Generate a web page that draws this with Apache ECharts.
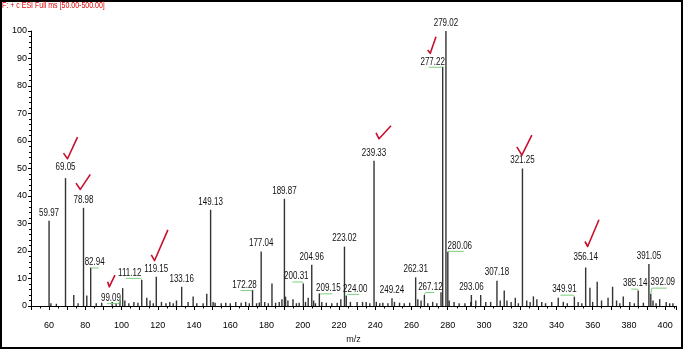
<!DOCTYPE html>
<html><head><meta charset="utf-8">
<script src="https://cdn.jsdelivr.net/npm/echarts@6/dist/echarts.min.js"></script>
<style>html,body{margin:0;padding:0;background:#fff}#c{width:685px;height:352px}</style>
</head><body><div id="c"></div>
<script>
// ---- data ----
const titleText = 'F: + c ESI Full ms [50.00-500.00]';
const xName = 'm/z';
const yName = 'Relative Abundance';
const labeledMz = [59.97, 69.05, 78.98, 82.94, 99.09, 111.12, 119.15, 133.16, 149.13, 172.28, 177.04, 189.87, 200.31, 204.96, 209.15, 223.02, 224.00, 239.33, 249.24, 262.31, 267.12, 277.22, 279.02, 280.06, 293.06, 307.18, 321.25, 349.91, 356.14, 385.14, 391.05, 392.09];
const labeledAb = [31, 46.5, 35.7, 14, 2.5, 9.5, 10.6, 7, 35, 5.8, 19.8, 39, 8.2, 15, 4.6, 21.6, 3.7, 52.8, 2.8, 10.4, 4, 87, 100, 19.7, 4, 9.2, 50, 3.4, 14, 5.6, 15.3, 4.5];
const labelTexts = ['59.97','69.05','78.98','82.94','99.09','111.12','119.15','133.16','149.13','172.28','177.04','189.87','200.31','204.96','209.15','223.02','224.00','239.33','249.24','262.31','267.12','277.22','279.02','280.06','293.06','307.18','321.25','349.91','356.14','385.14','391.05','392.09'];
const minorMz = [61,64,73.6,76,80.8,86,89,94.8,97,100.6,101.8,104,106.8,109,113.9,115.7,117.5,122,124.5,126.6,128.5,130.3,136.7,139.5,141.5,145,147,150.5,151.6,155,157.5,160,163,166,168.5,170.5,174.5,176,179,181,183,185,187,188.5,190.5,191.8,194.6,196.5,198,201.5,203,206,207,210.5,213,216,219,221,226.3,230,233,235,237,240.6,242.5,244.2,247,250.6,253.4,256,259,263.5,265.3,269,271.7,274,276.3,280.8,283.5,286.3,289.5,292.7,295.5,298.2,301,303.7,309,311.2,312.7,315,317.3,319,323.6,325.5,327.3,329.2,331.9,334,337.4,341,343.8,346,352,354,358.5,360,362.5,364.9,368.5,371,373.2,375,376.9,380.5,383,388,393.3,395,397,400.6,402.5,404.3];
const minorAb = [1,0.8,4,1,3.8,1,1.2,1.5,1,6.5,2,1,1.5,1.2,3,2,1,1.5,1,1.5,1,2,1.5,3.5,1,1,4.5,1.5,1.2,1,1.2,1,1.5,1.2,1.5,1,1,1.3,1.5,1,8.2,1.2,1.5,2.5,3.4,2,2.5,1,1.2,1.5,3,2,1,1.5,1.2,1,1.2,2.5,1.5,1.5,1.5,1.5,1,1.5,1,1.2,1,1.5,1.2,1,1.2,2.5,2,1,1.5,1,5,2,1.5,1,1,1.5,2,4,1.5,1.5,2,5.6,2,1.5,3,1,2,1.5,3.5,2.5,1.5,1,1.5,3,1.5,1,1.5,1,6.6,1.5,8.8,2,3,7,2,1,3.5,1.5,1,1.2,2,1,2.5,1.5,1,1];
const checkedPeaks = ['69.05','78.98','99.09','119.15','239.33','277.22','321.25','356.14'];

// ---- layout / style (not data) ----
const FF = "'Liberation Sans',Arial,sans-serif";
const labelOffset = { // [dx, dy, greenConnector]
  '82.94':[4,-5,1], '99.09':[-9,-1,1], '111.12':[-12,-7,1], '172.28':[-8,-5,1], '200.31':[-7,-7,1],
  '209.15':[9,-5,1], '224.00':[9,-7,1], '267.12':[6,-8,1], '277.22':[-10,-5,1], '280.06':[12,-6,1],
  '349.91':[-10,-7,1], '385.14':[-3,-7,1], '392.09':[12,-11,1], '69.05':[0,-11,0], '356.14':[0,-10,0]
};
const checkShape = {
  '69.05':[[-2,-25],[2,-19.4],[12,-41]],
  '78.98':[[-7.5,-24.7],[-3.2,-18.4],[6.8,-33.4]],
  '99.09':[[-12.3,-17.3],[-10.7,-12.3],[-5,-24]],
  '119.15':[[-5,-22],[-1.7,-16.3],[11.6,-47]],
  '239.33':[[2,-28],[5,-22],[17,-35]],
  '277.22':[[-15,-16.7],[-12.4,-13.4],[-6.7,-30]],
  '321.25':[[-5.6,-21.6],[-0.6,-13.3],[9.4,-33.3]],
  '356.14':[[-0.7,-26],[2,-21],[13.3,-47.7]]
};

const allPeaks = labeledMz.map((m,i)=>[m,labeledAb[i]]).concat(minorMz.map((m,i)=>[m,minorAb[i]]));
const labelData = labeledMz.map((m,i)=>[m,labeledAb[i]]);
const checkData = checkedPeaks.map(t=>{const i=labelTexts.indexOf(t);return [labeledMz[i],labeledAb[i]];});

const chart = echarts.init(document.getElementById('c'));
chart.setOption({
  animation:false,
  backgroundColor:'#fff',
  grid:{left:31,right:9,top:31,bottom:46,containLabel:false,outerBoundsMode:'none'},
  xAxis:{type:'value',min:50,max:406,interval:10,name:xName,nameLocation:'middle',nameGap:27,
    nameTextStyle:{fontSize:9,color:'#111',fontFamily:FF},
    axisLine:{lineStyle:{color:'#000',width:1}},
    axisTick:{length:4,lineStyle:{color:'#000'}},
    minorTick:{show:true,splitNumber:2,length:2.5,lineStyle:{color:'#000'}},
    axisLabel:{margin:15,fontSize:9,color:'#000',fontFamily:FF,formatter:v=>(v%20===0?String(v):'')},
    splitLine:{show:false}},
  yAxis:{type:'value',min:0,max:100,interval:10,name:yName,nameLocation:'middle',nameGap:20,
    nameTextStyle:{fontSize:10,color:'#111',fontFamily:FF},
    axisLine:{show:true,lineStyle:{color:'#000',width:1}},
    axisTick:{show:true,length:3,lineStyle:{color:'#000'}},
    minorTick:{show:true,splitNumber:5,length:2,lineStyle:{color:'#000'}},
    axisLabel:{margin:4,fontSize:9,color:'#000',fontFamily:FF},
    splitLine:{show:false}},
  graphic:[
    {type:'rect',shape:{x:1,y:1,width:681,height:347},style:{fill:'none',stroke:'#000',lineWidth:2},silent:true},
    {type:'text',x:2,y:1,scaleX:0.78,style:{text:titleText,x:0,y:0,fill:'#dd0000',fontSize:9,fontFamily:FF}}
  ],
  series:[
    {type:'custom',data:allPeaks,clip:false,
     renderItem:(p,api)=>{const a=api.coord([api.value(0),0]);const b=api.coord([api.value(0),api.value(1)]);
       return {type:'line',shape:{x1:a[0],y1:a[1],x2:b[0],y2:b[1]},style:{stroke:'#333',lineWidth:1.4}};}},
    {type:'custom',data:labelData,clip:false,
     renderItem:(p,api)=>{const t=labelTexts[p.dataIndex];const top=api.coord([api.value(0),api.value(1)]);
       const o=labelOffset[t]||[0,-8,0];const cx=top[0]+o[0],cy=top[1]+o[1];
       const ch=[{type:'text',x:cx,y:cy,scaleX:0.8,style:{text:t,x:0,y:0,align:'center',verticalAlign:'middle',fontSize:10,fontFamily:FF,fill:'#111'}}];
       if(o[2]){const yb=cy+5.5;const x0=o[0]<0?cx-4:cx+4;
         ch.push({type:'polyline',shape:{points:[[x0,yb],[top[0]+(o[0]<0?-1:1),yb],[top[0],top[1]]]},style:{stroke:'#7ccf7c',lineWidth:1,fill:'none'}});}
       return {type:'group',children:ch};}},
    {type:'custom',data:checkData,clip:false,
     renderItem:(p,api)=>{const t=checkedPeaks[p.dataIndex];const top=api.coord([api.value(0),api.value(1)]);
       const pts=checkShape[t].map(q=>[top[0]+q[0],top[1]+q[1]]);
       return {type:'polyline',shape:{points:pts},style:{stroke:'#c8102e',lineWidth:1.6,fill:'none',lineJoin:'round'}};}}
  ]
});
</script></body></html>
